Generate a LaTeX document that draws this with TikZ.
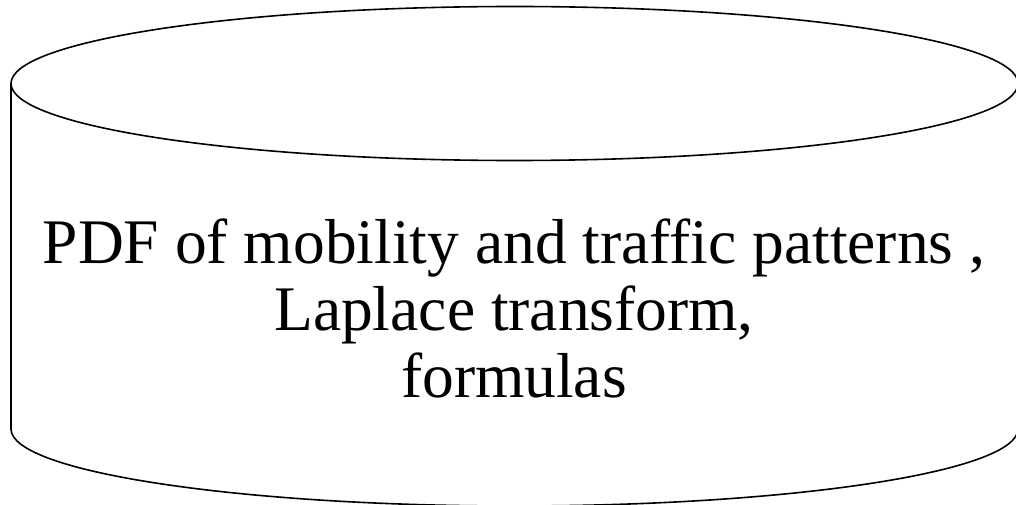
\documentclass[tikz,border=0pt]{standalone}
\usepackage{fontspec}
\setmainfont{Liberation Serif}
\begin{document}
\begin{tikzpicture}[x=1pt,y=-1pt,
  outline/.style={line width=1.6pt, black},
  labeltext/.style={align=center, inner sep=0pt, font=\fontsize{63.5}{67}\selectfont}]
\useasboundingbox (0,0) rectangle (1016,505);
% cylinder body
\draw[outline] (11,83.5) -- (11,429) arc[start angle=180, end angle=0, x radius=503.5, y radius=77] -- (1018,83.5);
% top ellipse
\draw[outline] (514.5,83.5) ellipse[x radius=503.5, y radius=77];
\node[labeltext] (label) at (514,308) {PDF of mobility and traffic patterns ,\\Laplace transform,\\formulas};
\end{tikzpicture}
\end{document}
